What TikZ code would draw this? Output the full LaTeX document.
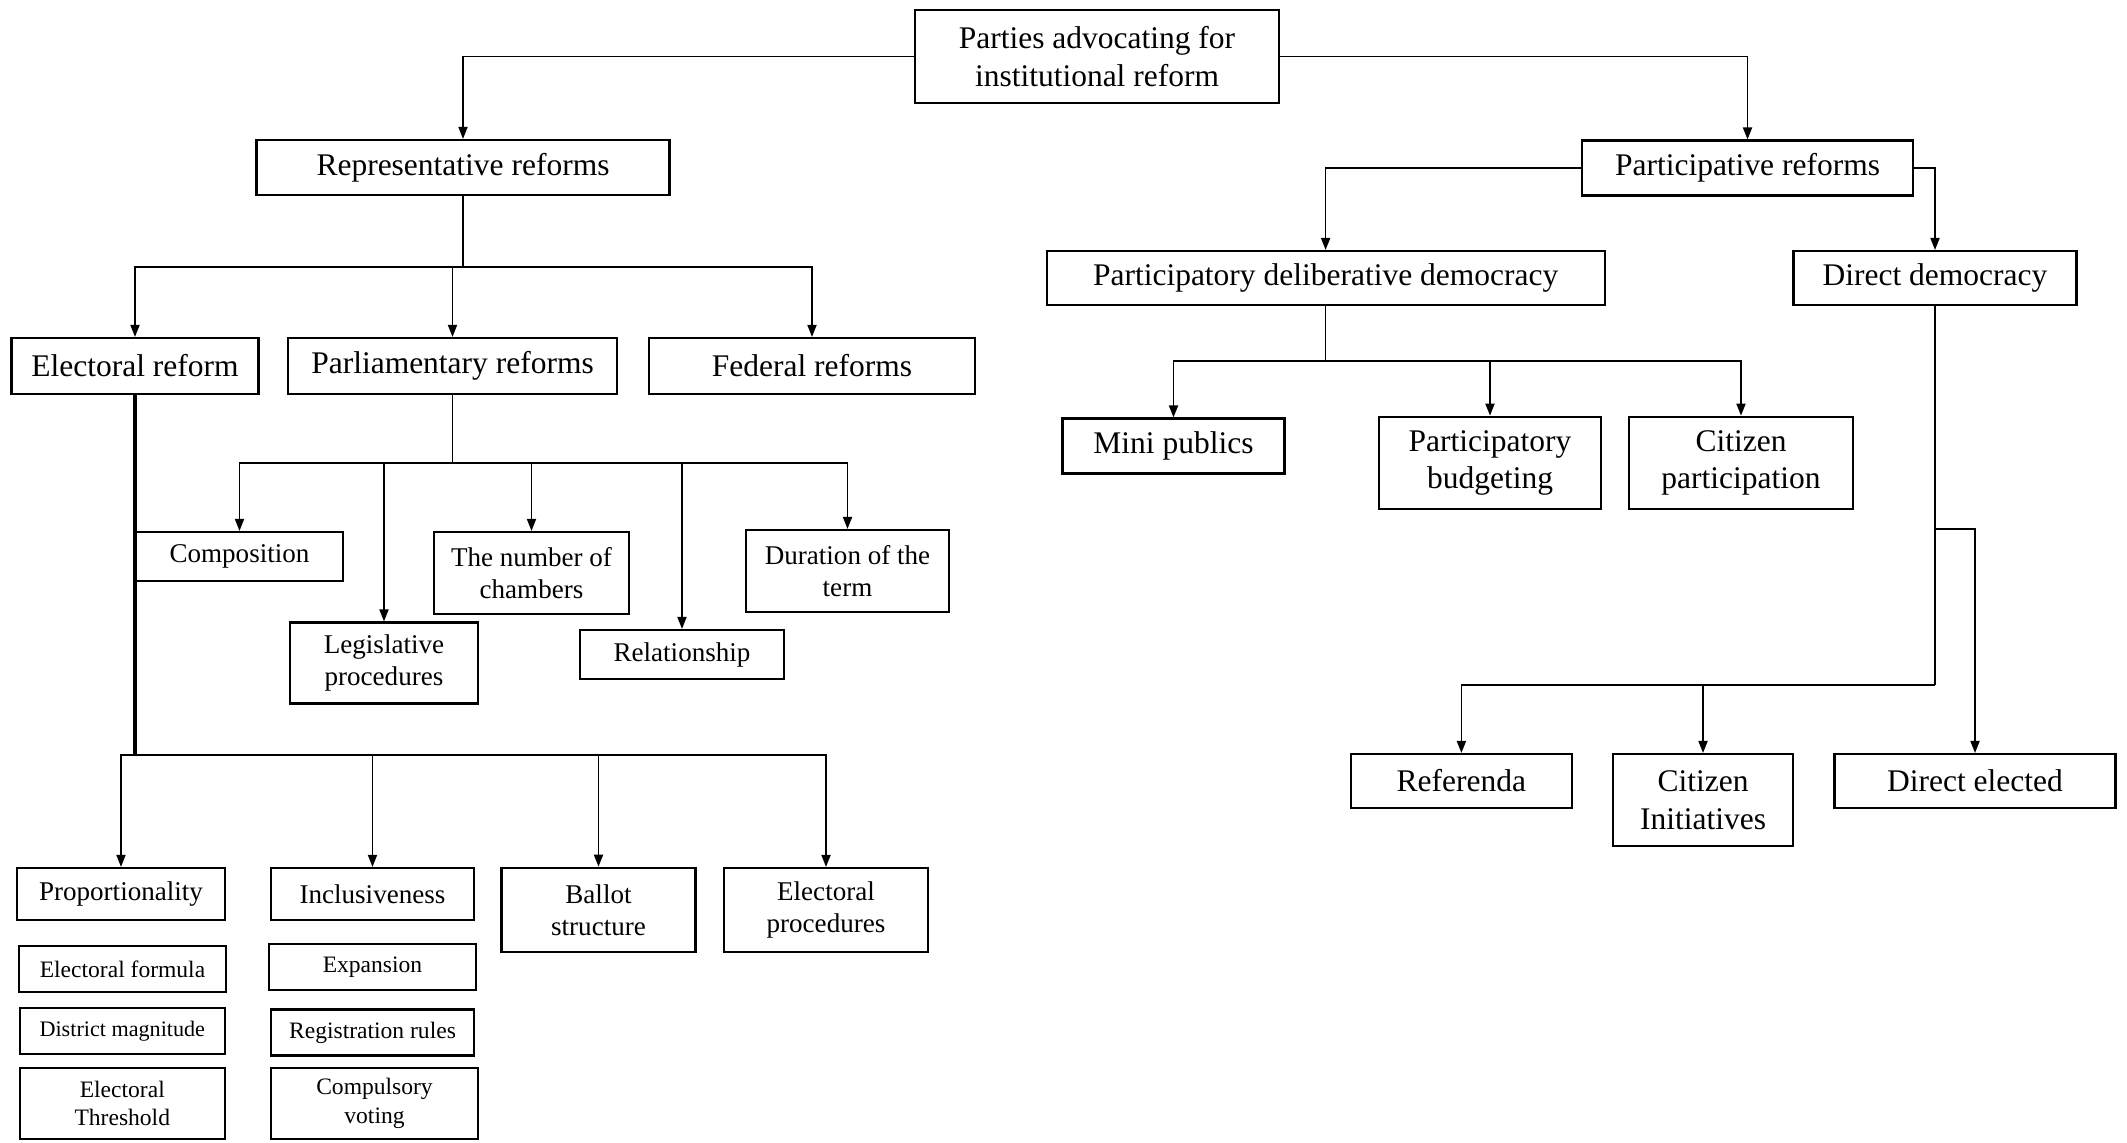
\documentclass[tikz,border=0pt]{standalone}
\usepackage{fontspec}
\setmainfont{Liberation Serif}
\usepackage{tikz}
\usetikzlibrary{arrows.meta, calc}
\tikzset{
	box/.style     ={rectangle, draw=black, line width=0.6pt, fill=white, align=center, inner sep=0pt, font=\fontsize{8.96}{10.75}\selectfont},
	midbox/.style  ={box, font=\fontsize{7.7}{9.24}\selectfont},
	smallbox/.style={box, font=\fontsize{6.7}{8.04}\selectfont},
	link/.style    ={line width=0.5pt},
	flowarrow/.style={link, -{Triangle[length=1.2mm, width=0.9mm]}},
}

\begin{document}
\begin{tikzpicture}
	\useasboundingbox (0,0) rectangle (21.27,-11.42);
	% top levels
	\node[box, minimum width=3.64cm, minimum height=0.93cm] (root) at (10.97,-0.565) {Parties advocating for\\institutional reform};
	\node[box, minimum width=4.13cm, minimum height=0.55cm] (rep) at (4.63,-1.675) {Representative reforms};
	\node[box, minimum width=3.31cm, minimum height=0.55cm] (part) at (17.475,-1.68) {Participative reforms};
	\node[box, minimum width=2.47cm, minimum height=0.56cm] (elec) at (1.35,-3.66) {Electoral reform};
	\node[box, minimum width=3.29cm, minimum height=0.56cm] (parl) at (4.525,-3.66) {Parliamentary reforms};
	\node[box, minimum width=3.26cm, minimum height=0.56cm] (fed) at (8.12,-3.66) {Federal reforms};
	\node[box, minimum width=5.58cm, minimum height=0.54cm] (pdd) at (13.256,-2.78) {Participatory deliberative democracy};
	\node[box, minimum width=2.83cm, minimum height=0.54cm] (dd) at (19.35,-2.78) {Direct democracy};
	% parliamentary branch
	\node[midbox, minimum width=2.07cm, minimum height=0.49cm] (comp) at (2.395,-5.565) {Composition};
	\node[midbox, minimum width=1.95cm, minimum height=0.82cm] (cham) at (5.315,-5.73) {The number of\\chambers};
	\node[midbox, minimum width=2.03cm, minimum height=0.82cm] (dur) at (8.475,-5.71) {Duration of the\\term};
	\node[midbox, minimum width=1.88cm, minimum height=0.81cm] (leg) at (3.84,-6.63) {Legislative\\procedures};
	\node[midbox, minimum width=2.04cm, minimum height=0.49cm] (rel) at (6.82,-6.545) {Relationship};
	% participatory deliberative branch
	\node[box, minimum width=2.22cm, minimum height=0.55cm] (mini) at (11.735,-4.46) {Mini publics};
	\node[box, minimum width=2.215cm, minimum height=0.926cm] (pbud) at (14.90,-4.63) {Participatory\\budgeting};
	\node[box, minimum width=2.235cm, minimum height=0.926cm] (cpart) at (17.41,-4.63) {Citizen\\participation};
	% direct democracy branch
	\node[box, minimum width=2.21cm, minimum height=0.54cm] (refe) at (14.614,-7.81) {Referenda};
	\node[box, minimum width=1.805cm, minimum height=0.92cm] (cini) at (17.03,-8.00) {Citizen\\Initiatives};
	\node[box, minimum width=2.81cm, minimum height=0.54cm] (delec) at (19.75,-7.81) {Direct elected};
	% electoral branch
	\node[midbox, minimum width=2.076cm, minimum height=0.52cm] (prop) at (1.21,-8.94) {Proportionality};
	\node[midbox, minimum width=2.03cm, minimum height=0.52cm] (incl) at (3.725,-8.94) {Inclusiveness};
	\node[midbox, minimum width=1.94cm, minimum height=0.845cm] (ball) at (5.985,-9.10) {Ballot\\structure};
	\node[midbox, minimum width=2.04cm, minimum height=0.84cm] (eproc) at (8.26,-9.10) {Electoral\\procedures};
	\node[smallbox, minimum width=2.07cm, minimum height=0.46cm] (eform) at (1.225,-9.69) {Electoral formula};
	\node[smallbox, minimum width=2.046cm, minimum height=0.465cm, font=\fontsize{6.3}{7.56}\selectfont] (dmag) at (1.223,-10.31) {District magnitude};
	\node[smallbox, minimum width=2.046cm, minimum height=0.714cm] (ethr) at (1.223,-11.033) {Electoral\\Threshold};
	\node[smallbox, minimum width=2.07cm, minimum height=0.455cm] (expa) at (3.725,-9.67) {Expansion};
	\node[smallbox, minimum width=2.03cm, minimum height=0.46cm] (regr) at (3.725,-10.325) {Registration rules};
	\node[smallbox, minimum width=2.07cm, minimum height=0.714cm] (comv) at (3.745,-11.033) {Compulsory\\voting};

	% connectors
	\draw[flowarrow] (root.west) -| (rep.north);
	\draw[flowarrow] (root.east) -| (part.north);
	\coordinate (repj) at (4.63,-2.67);
	\draw[link] (rep.south) -- (repj);
	\foreach \n in {elec,parl,fed}
		\draw[flowarrow] (repj) -| (\n.north);
	\coordinate (parlj) at (4.525,-4.63);
	\draw[link] (parl.south) -- (parlj);
	\foreach \n in {comp,leg,cham,rel,dur}
		\draw[flowarrow] (parlj) -| (\n.north);
	\coordinate (elecj) at (1.35,-7.55);
	\draw[link, line width=1pt] (elec.south) -- (elecj);
	\foreach \n in {prop,incl,ball,eproc}
		\draw[flowarrow] (elecj) -| (\n.north);
	\draw[flowarrow] (part.west) -| (pdd.north);
	\draw[flowarrow] (part.east) -| (dd.north);
	\coordinate (pddj) at (13.256,-3.61);
	\draw[link] (pdd.south) -- (pddj);
	\foreach \n in {mini,pbud,cpart}
		\draw[flowarrow] (pddj) -| (\n.north);
	\coordinate (ddj) at (19.35,-6.848);
	\coordinate (dde) at (19.35,-5.29);
	\draw[link] (dd.south) -- (ddj);
	\foreach \n in {refe,cini}
		\draw[flowarrow] (ddj) -| (\n.north);
	\draw[flowarrow] (dde) -| (delec.north);
\end{tikzpicture}
\end{document}
